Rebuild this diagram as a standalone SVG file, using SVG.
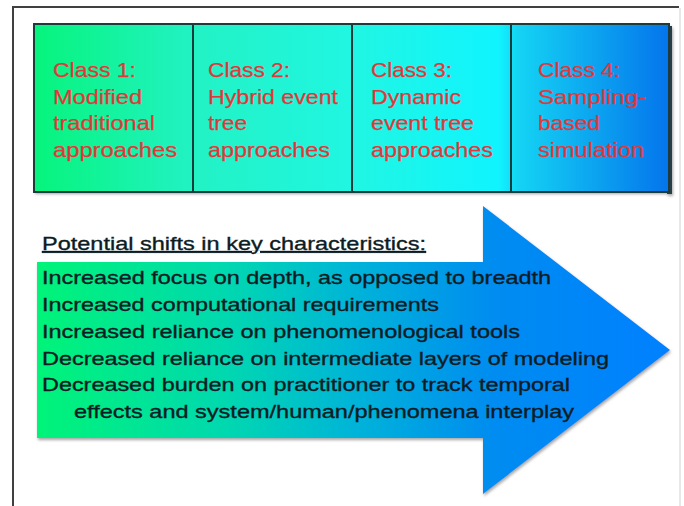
<svg xmlns="http://www.w3.org/2000/svg" width="684" height="506" viewBox="0 0 684 506">
  <defs>
    <linearGradient id="gBoxes" gradientUnits="userSpaceOnUse" x1="34" y1="0" x2="670" y2="0">
      <stop offset="0" stop-color="#06f47c"/>
      <stop offset="0.25" stop-color="#22f2c4"/>
      <stop offset="0.5" stop-color="#20f6e2"/>
      <stop offset="0.73" stop-color="#10f4ff"/>
      <stop offset="0.76" stop-color="#14d4f4"/>
      <stop offset="1" stop-color="#0474ec"/>
    </linearGradient>
    <linearGradient id="gArrow" gradientUnits="userSpaceOnUse" x1="37" y1="0" x2="670" y2="0">
      <stop offset="0" stop-color="#00f478"/>
      <stop offset="0.3" stop-color="#00d8b0"/>
      <stop offset="0.5" stop-color="#00b4d8"/>
      <stop offset="0.72" stop-color="#008cf0"/>
      <stop offset="1" stop-color="#0080ff"/>
    </linearGradient>
    <filter id="shadow" x="-5%" y="-5%" width="110%" height="110%">
      <feGaussianBlur in="SourceAlpha" stdDeviation="1.6"/>
      <feOffset dx="1" dy="2" result="b"/>
      <feFlood flood-color="#808080" flood-opacity="0.7"/>
      <feComposite in2="b" operator="in"/>
      <feMerge><feMergeNode/><feMergeNode in="SourceGraphic"/></feMerge>
    </filter>
  </defs>
  <style>
    .box { fill: url(#gBoxes); stroke: #1c3c3c; stroke-width: 2; }
    .cls { font-family: "Liberation Sans", Arial, sans-serif; font-size: 21px; fill: #e0383a; stroke: #e0383a; stroke-width: 0.25; }
    .body { font-family: "Liberation Sans", Arial, sans-serif; font-size: 19px; fill: #0c1c24; stroke: #0c1c24; stroke-width: 0.35; }
  </style>
  <rect width="684" height="506" fill="#ffffff"/>
  <g id="frame" fill="none">
    <path d="M13 506 V7 H679" stroke="#404040" stroke-width="2"/>
    <line x1="680" y1="8" x2="680" y2="506" stroke="#d0d0d0" stroke-width="1"/>
  </g>
  <g id="class-strip" filter="url(#shadow)">
    <rect x="34" y="24" width="636" height="168" fill="url(#gBoxes)"/>
    <rect x="667" y="26" width="5" height="168" fill="#2c3c4c"/>
  </g>
  <g id="class1">
    <rect class="box" x="34" y="24" width="159" height="168"/>
    <text class="cls" x="53" y="77" textLength="83" lengthAdjust="spacingAndGlyphs">Class 1:</text>
    <text class="cls" x="53" y="103.5" textLength="89" lengthAdjust="spacingAndGlyphs">Modified</text>
    <text class="cls" x="53" y="130" textLength="102" lengthAdjust="spacingAndGlyphs">traditional</text>
    <text class="cls" x="53" y="156.5" textLength="124" lengthAdjust="spacingAndGlyphs">approaches</text>
  </g>
  <g id="class2">
    <rect class="box" x="193" y="24" width="159" height="168"/>
    <text class="cls" x="208" y="77" textLength="82" lengthAdjust="spacingAndGlyphs">Class 2:</text>
    <text class="cls" x="208" y="103.5" textLength="130" lengthAdjust="spacingAndGlyphs">Hybrid event</text>
    <text class="cls" x="208" y="130" textLength="39" lengthAdjust="spacingAndGlyphs">tree</text>
    <text class="cls" x="208" y="156.5" textLength="122" lengthAdjust="spacingAndGlyphs">approaches</text>
  </g>
  <g id="class3">
    <rect class="box" x="352" y="24" width="159" height="168"/>
    <text class="cls" x="371" y="77" textLength="81" lengthAdjust="spacingAndGlyphs">Class 3:</text>
    <text class="cls" x="371" y="103.5" textLength="90" lengthAdjust="spacingAndGlyphs">Dynamic</text>
    <text class="cls" x="371" y="130" textLength="103" lengthAdjust="spacingAndGlyphs">event tree</text>
    <text class="cls" x="371" y="156.5" textLength="122" lengthAdjust="spacingAndGlyphs">approaches</text>
  </g>
  <g id="class4">
    <rect class="box" x="511" y="24" width="158" height="168"/>
    <text class="cls" x="538" y="77" textLength="82" lengthAdjust="spacingAndGlyphs">Class 4:</text>
    <text class="cls" x="538" y="103.5" textLength="108" lengthAdjust="spacingAndGlyphs">Sampling-</text>
    <text class="cls" x="538" y="130" textLength="62" lengthAdjust="spacingAndGlyphs">based</text>
    <text class="cls" x="538" y="156.5" textLength="106" lengthAdjust="spacingAndGlyphs">simulation</text>
  </g>
  <g id="arrow">
    <polygon points="37,262 483,262 483,206 670,350 483,494 483,438 37,438" fill="url(#gArrow)" filter="url(#shadow)"/>
  </g>
  <g id="characteristics">
    <text class="body" x="42" y="250" textLength="384" lengthAdjust="spacingAndGlyphs" text-decoration="underline">Potential shifts in key characteristics:</text>
    <text class="body" x="42" y="284" textLength="509" lengthAdjust="spacingAndGlyphs">Increased focus on depth, as opposed to breadth</text>
    <text class="body" x="42" y="311" textLength="397" lengthAdjust="spacingAndGlyphs">Increased computational requirements</text>
    <text class="body" x="42" y="338" textLength="478" lengthAdjust="spacingAndGlyphs">Increased reliance on phenomenological tools</text>
    <text class="body" x="42" y="364.5" textLength="567" lengthAdjust="spacingAndGlyphs">Decreased reliance on intermediate layers of modeling</text>
    <text class="body" x="42" y="391" textLength="528" lengthAdjust="spacingAndGlyphs">Decreased burden on practitioner to track temporal</text>
    <text class="body" x="74" y="418" textLength="500" lengthAdjust="spacingAndGlyphs">effects and system/human/phenomena interplay</text>
  </g>
</svg>
